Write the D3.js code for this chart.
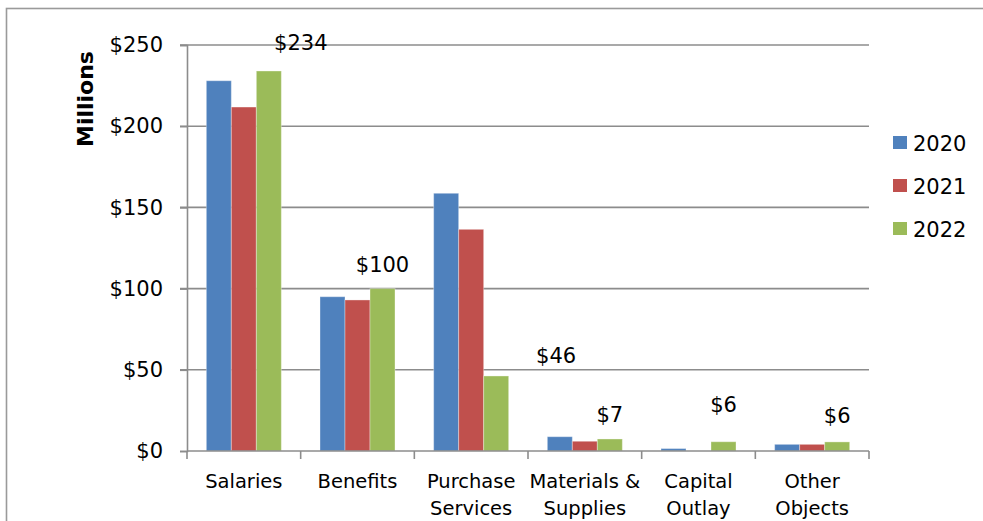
<!DOCTYPE html>
<html>
<head>
<meta charset="utf-8">
<script src="https://cdn.jsdelivr.net/npm/d3@7"></script>
<style>
  html, body { margin: 0; padding: 0; background: #fff; }
  svg { display: block; }
  text { font-family: "DejaVu Sans", Verdana, sans-serif; fill: #000; }
</style>
</head>
<body>
<svg id="chart" width="983" height="521"></svg>
<script>
// Spending by object, in millions of dollars
const categories = ["Salaries", "Benefits", "Purchase Services", "Materials & Supplies", "Capital Outlay", "Other Objects"];
const categoryLines = [["Salaries"], ["Benefits"], ["Purchase", "Services"], ["Materials &", "Supplies"], ["Capital", "Outlay"], ["Other", "Objects"]];
const seriesNames = ["2020", "2021", "2022"];
const values2020 = [228, 95, 158.7, 8.8, 1.5, 4.1];
const values2021 = [211.8, 93, 136.5, 6.0, 0, 4.1];
const values2022 = [234, 100, 46.2, 7.4, 5.7, 5.6];
const yTicks = [0, 50, 100, 150, 200, 250];
const seriesColors = ["#4F81BD", "#C0504D", "#9BBB59"];
// hand placement of the 2022 value labels (px)
const labelNudge = [[32, -4], [0, 0], [60, 4], [0, 0], [0, -13], [0, -2]];

const seriesValues = [values2020, values2021, values2022];
const svg = d3.select("#chart");

const plot = { left: 187, right: 869, top: 45, bottom: 451 };

// outer frame
svg.append("rect")
  .attr("x", 6.5).attr("y", 8.5)
  .attr("width", 1000).attr("height", 600)
  .attr("fill", "none").attr("stroke", "#9a9a9a").attr("stroke-width", 1.6);

const x = d3.scaleBand().domain(categories).range([plot.left, plot.right]).padding(0);
const xs = d3.scaleBand().domain(seriesNames).range([0, x.bandwidth()]).paddingInner(0).paddingOuter(0.773);
const y = d3.scaleLinear().domain([0, 250]).range([plot.bottom, plot.top]);

// gridlines
svg.append("g")
  .selectAll("line").data(yTicks.filter(d => d > 0)).join("line")
  .attr("x1", plot.left - 7).attr("x2", plot.right)
  .attr("y1", d => y(d)).attr("y2", d => y(d))
  .attr("stroke", "#8c8c8c").attr("stroke-width", 1.6);

// y axis
const yAxis = svg.append("g").attr("transform", `translate(${plot.left},0)`)
  .call(d3.axisLeft(y).tickValues(yTicks).tickSize(7).tickPadding(17).tickFormat(d => "$" + d));
yAxis.select(".domain").attr("stroke", "#8c8c8c").attr("stroke-width", 1.6);
yAxis.selectAll(".tick line").attr("stroke", "#8c8c8c").attr("stroke-width", 1.6);
yAxis.selectAll(".tick text").attr("font-size", 21).attr("font-family", "DejaVu Sans").attr("fill", "#000");

// bars
const rows = categories.map((c, i) => ({ c, i }));
const groups = svg.append("g").selectAll("g").data(rows).join("g")
  .attr("transform", d => `translate(${x(d.c)},0)`);
groups.selectAll("rect")
  .data(d => seriesNames.map((s, k) => ({ s, k, v: seriesValues[k][d.i] })))
  .join("rect")
  .attr("x", d => xs(d.s))
  .attr("width", xs.bandwidth())
  .attr("y", d => y(d.v))
  .attr("height", d => y(0) - y(d.v))
  .attr("fill", d => seriesColors[d.k])
  .attr("stroke", "rgba(255,255,255,0.35)").attr("stroke-width", 1);

// x axis
const xAxis = svg.append("g").attr("transform", `translate(0,${plot.bottom})`);
xAxis.append("line")
  .attr("x1", plot.left).attr("x2", plot.right)
  .attr("stroke", "#8c8c8c").attr("stroke-width", 1.6);
const xEdges = categories.map(c => x(c)).concat([plot.right]);
xAxis.selectAll("line.tick").data(xEdges).join("line").attr("class", "tick")
  .attr("x1", d => d).attr("x2", d => d).attr("y1", 0).attr("y2", 8)
  .attr("stroke", "#8c8c8c").attr("stroke-width", 1.6);
const catText = xAxis.selectAll("text").data(rows).join("text")
  .attr("text-anchor", "middle")
  .attr("font-size", 19.5)
  .attr("x", d => x(d.c) + x.bandwidth() / 2)
  .attr("y", 37);
catText.selectAll("tspan").data(d => categoryLines[d.i]).join("tspan")
  .attr("x", function () { return d3.select(this.parentNode).attr("x"); })
  .attr("dy", (d, j) => j === 0 ? 0 : 27)
  .text(d => d);

// 2022 value labels
const fmt = d3.format(".0f");
svg.append("g").selectAll("text").data(rows).join("text")
  .attr("text-anchor", "middle")
  .attr("font-size", 21)
  .attr("x", d => x(d.c) + xs("2022") + xs.bandwidth() / 2 + labelNudge[d.i][0])
  .attr("y", d => y(values2022[d.i]) - 17 + labelNudge[d.i][1])
  .text(d => "$" + fmt(values2022[d.i]));

// axis title
svg.append("text")
  .attr("transform", "translate(93,99) rotate(-90)")
  .attr("text-anchor", "middle")
  .attr("font-size", 22).attr("font-weight", "bold")
  .text("Millions");

// legend
const legend = svg.append("g").attr("transform", "translate(893,136)");
const li = legend.selectAll("g").data(seriesNames).join("g")
  .attr("transform", (d, k) => `translate(0,${k * 43})`);
li.append("rect").attr("width", 14).attr("height", 13).attr("fill", (d, k) => seriesColors[k]);
li.append("text").attr("x", 20).attr("y", 14.5).attr("font-size", 21).text(d => d);
</script>
</body>
</html>
